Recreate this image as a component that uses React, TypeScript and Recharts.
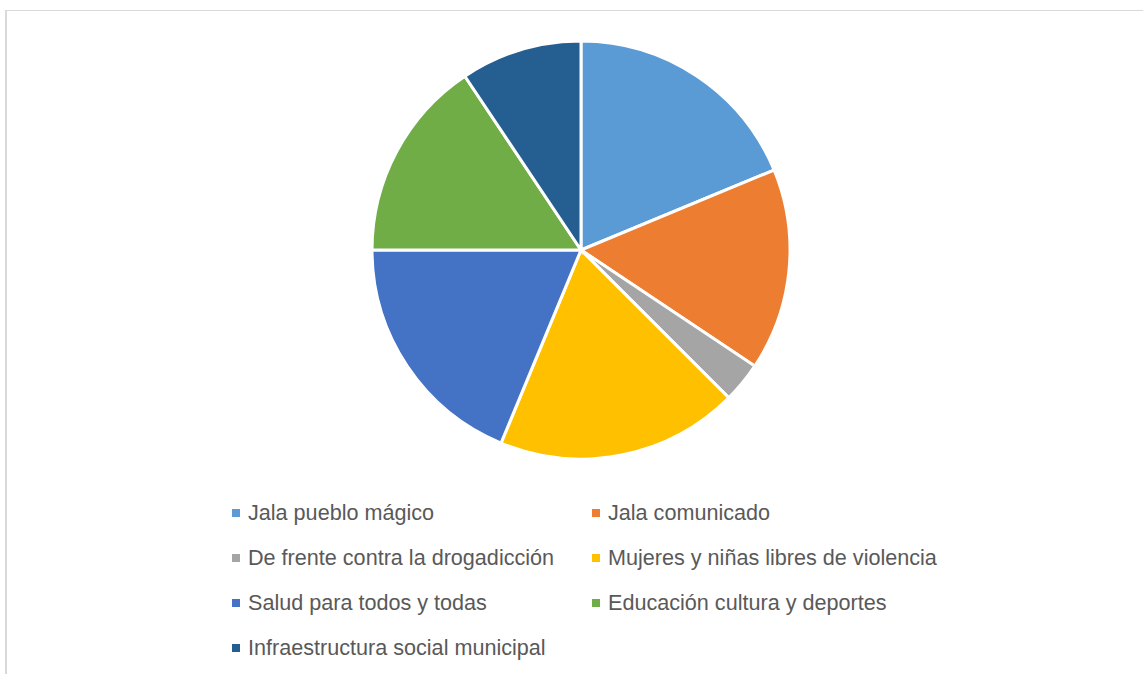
import { PieChart, Pie, Cell, Legend } from 'recharts'

const programas = [
  'Jala pueblo mágico',
  'Jala comunicado',
  'De frente contra la drogadicción',
  'Mujeres y niñas libres de violencia',
  'Salud para todos y todas',
  'Educación cultura y deportes',
  'Infraestructura social municipal',
]

const valores = [6, 5, 1, 6, 6, 5, 3]

const COLORS = ['#5B9BD5', '#ED7D31', '#A5A5A5', '#FFC000', '#4472C4', '#70AD47', '#255E91']

const data = programas.map((name, i) => ({ name, value: valores[i] }))

// leyenda en dos columnas, en el orden de la serie (sin ordenar)
function renderLegend() {
  return (
    <div style={{ display: 'grid', gridTemplateColumns: '360px 380px' }}>
      {programas.map((name, index) => (
        <div
          key={`item-${index}`}
          style={{ display: 'flex', alignItems: 'center', height: 45, color: '#595959', fontSize: 21.6 }}
        >
          <span style={{ width: 8, height: 8, background: COLORS[index % COLORS.length], marginRight: 8, display: 'inline-block' }} />
          <span>{name}</span>
        </div>
      ))}
    </div>
  )
}

export default function App() {
  return (
    <div style={{ position: 'fixed', inset: 0, background: '#fff', overflow: 'hidden', fontFamily: '"Liberation Sans", Arial, sans-serif' }}>
      <div
        style={{
          position: 'absolute',
          left: 5,
          top: 10,
          width: 1200,
          height: 700,
          borderLeft: '2px solid #d9d9d9',
          borderTop: '1px solid #d9d9d9',
        }}
      />
      <div style={{ position: 'absolute', left: 0, top: 0 }}>
        <PieChart width={1143} height={674} margin={{ top: 0, right: 0, bottom: 0, left: 0 }}>
          <Pie
            data={data}
            dataKey="value"
            nameKey="name"
            cx={581}
            cy={250}
            outerRadius={209}
            startAngle={90}
            endAngle={-270}
            stroke="#fff"
            strokeWidth={3}
            isAnimationActive={false}
          >
            {data.map((_, index) => (
              <Cell key={`cell-${index}`} fill={COLORS[index % COLORS.length]} />
            ))}
          </Pie>
          <Legend
            content={renderLegend}
            wrapperStyle={{ position: 'absolute', left: 232, top: 490, width: 760 }}
          />
        </PieChart>
      </div>
    </div>
  )
}
